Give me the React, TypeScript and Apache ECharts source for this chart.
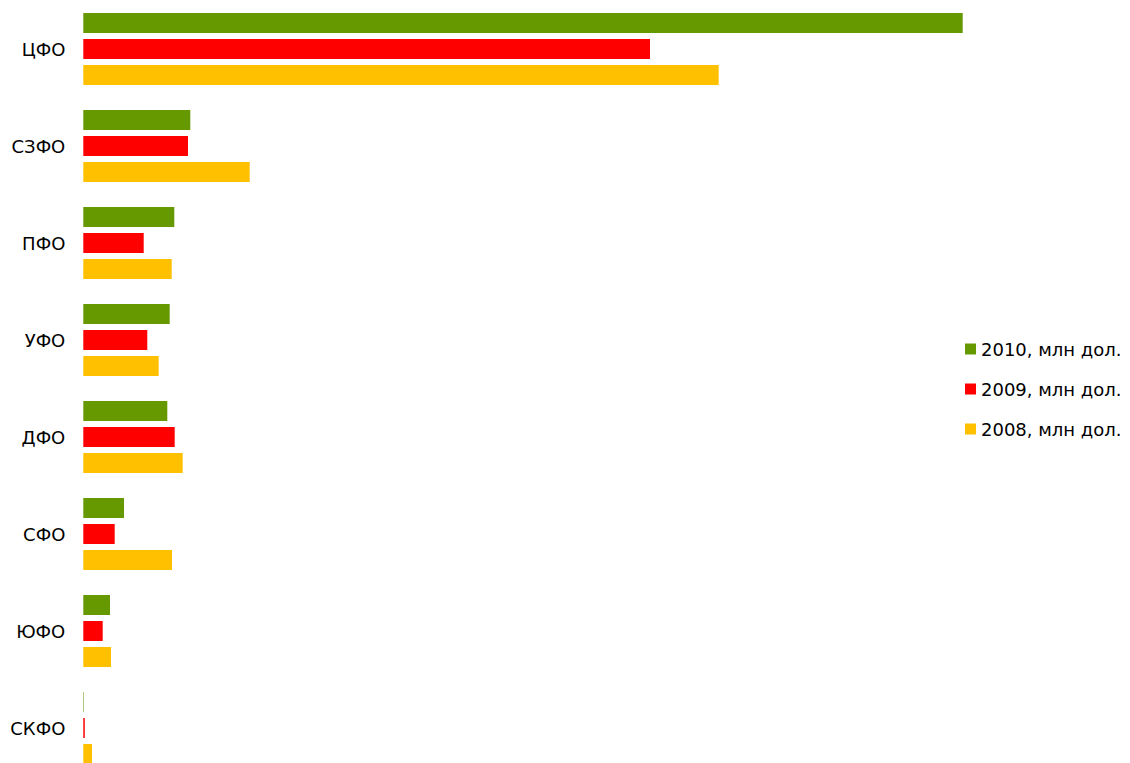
import React, { useEffect, useRef } from "react";
import * as echarts from "echarts";

const categories = ["ЦФО", "СЗФО", "ПФО", "УФО", "ДФО", "СФО", "ЮФО", "СКФО"];
const seriesNames = ["2010, млн дол.", "2009, млн дол.", "2008, млн дол."];
const values2010 = [8794, 1070, 910, 864, 840, 407, 267, 5];
const values2009 = [5667, 1047, 604, 640, 914, 314, 194, 15];
const values2008 = [6354, 1664, 884, 754, 994, 887, 277, 87];
const colors = ["#669900", "#FF0000", "#FFC000"];

export default function App() {
  const ref = useRef<HTMLDivElement>(null);
  useEffect(() => {
    if (!ref.current) return;
    const chart = echarts.init(ref.current, undefined, { renderer: "svg" });
    const data = [values2010, values2009, values2008];
    chart.setOption({
      animation: false,
      textStyle: { fontFamily: "DejaVu Sans" },
      grid: { left: 83.3, top: 0.5, width: 1000, height: 776 },
      legend: {
        orient: "vertical",
        left: 965,
        top: 340,
        padding: 0,
        itemWidth: 11,
        itemHeight: 11,
        itemGap: 22,
        icon: "rect",
        data: seriesNames,
        textStyle: { fontSize: 18, color: "#000", fontFamily: "DejaVu Sans" },
      },
      xAxis: { type: "value", min: 0, max: 10000, show: false },
      yAxis: {
        type: "category",
        data: categories,
        inverse: true,
        axisLine: { show: false },
        axisTick: { show: false },
        axisLabel: { fontSize: 18, color: "#000", margin: 18, fontFamily: "DejaVu Sans" },
      },
      series: seriesNames.map((name, i) => ({
        name,
        type: "bar",
        data: data[i],
        barWidth: 20,
        barGap: "30%",
        itemStyle: { color: colors[i] },
      })),
    });
    return () => chart.dispose();
  }, []);
  return (
    <div style={{ position: "absolute", left: 0, top: 0, width: 1130, height: 763, overflow: "hidden", background: "#fff" }}>
      <div ref={ref} style={{ width: 1130, height: 777 }} />
    </div>
  );
}
